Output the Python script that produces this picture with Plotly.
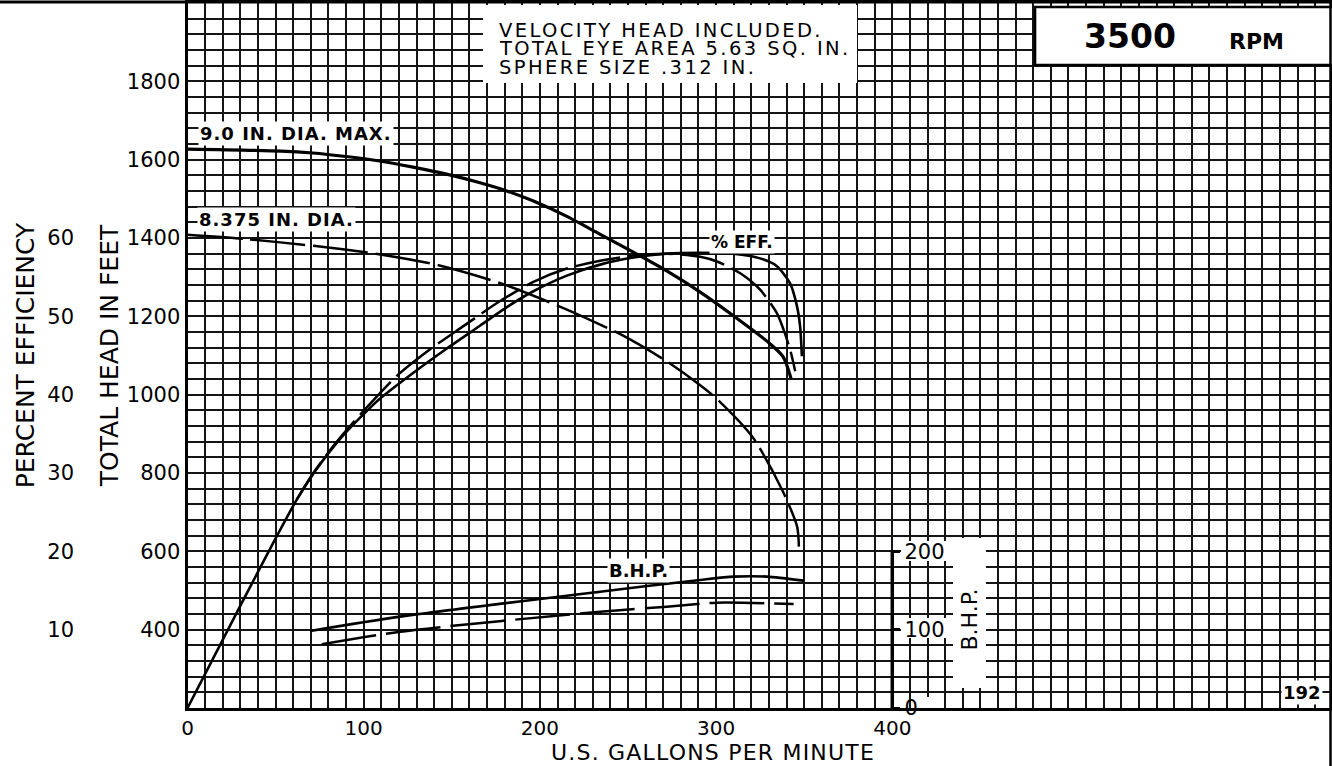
import plotly.graph_objects as go

# ---------------- data ----------------
GPM_HEAD_90 = [0, 53, 71, 90, 110, 128, 147, 166, 182, 196, 215, 234, 253, 272, 291, 310, 329, 338, 342.5]
HEAD_90 = [1627, 1622, 1617, 1608, 1596, 1581, 1563, 1541, 1519, 1495, 1456, 1410, 1364, 1316, 1262, 1201, 1136, 1097, 1042]

GPM_HEAD_8375 = [0, 33.5, 71.5, 109.5, 143, 178, 215, 247.5, 272, 291, 300.5, 321, 338, 346, 347]
HEAD_8375 = [1408, 1397, 1380, 1358, 1330, 1284, 1218, 1150, 1085, 1024, 989, 890, 752, 663, 612]

GPM_EFF_90 = [0, 31.7, 50.6, 62, 71.4, 80.9, 90.4, 101.7, 109.3, 128.2, 147.2, 166, 182.1, 196.3, 215.3,
              234.2, 253.1, 272, 291, 309.9, 325, 334.5, 342, 345.9, 347.7, 348.7]
EFF_90 = [0, 13.8, 21.9, 26.6, 29.9, 32.8, 35.3, 37.9, 39.5, 42.8, 45.9, 48.8, 51.3, 53.2, 55.2,
          56.6, 57.5, 58.0, 58.1, 58.0, 57.4, 56.4, 54.2, 51.3, 48.7, 44.9]

GPM_EFF_8375 = [62, 71.4, 80.9, 90.4, 99.8, 118.8, 137.7, 156.6, 177.4, 196.3, 215.3, 234.2, 253.1, 272,
                291, 300.5, 313.7, 325, 334.5, 338.3, 342.1, 344.9]
EFF_8375 = [26.6, 30.0, 32.9, 35.5, 37.9, 42.4, 45.8, 48.75, 51.95, 54.4, 56.1, 57.1, 57.75, 58.0,
            57.6, 57.0, 55.5, 53.4, 50.4, 48.3, 45.7, 43.0]

GPM_BHP_90 = [69.6, 120.6, 234.2, 291, 309.9, 328.8, 349.6]
BHP_90 = [98.3, 116.6, 148.5, 163.5, 167.7, 167.7, 162.6]

GPM_BHP_8375 = [76.2, 120.6, 234.2, 272, 300.5, 344]
BHP_8375 = [81.4, 97.4, 123, 129.4, 134.5, 132.8]

X_TICKS = [0, 100, 200, 300, 400]
HEAD_TICKS = [400, 600, 800, 1000, 1200, 1400, 1600, 1800]
EFF_TICKS = [10, 20, 30, 40, 50, 60]
BHP_TICKS = [0, 100, 200]

NOTES = ["VELOCITY HEAD INCLUDED.", "TOTAL EYE AREA 5.63 SQ. IN.", "SPHERE SIZE .312 IN."]
SPEED = "3500"
SPEED_UNIT = "RPM"
PAGE = "192"
LABEL_90 = "9.0 IN. DIA. MAX."
LABEL_8375 = "8.375 IN. DIA."
LABEL_EFF = "% EFF."
LABEL_BHP = "B.H.P."

# ---------------- layout constants ----------------
W, H = 1332, 766
ML, MR, MT, MB = 0, 1, 3, 58
PLOT_LEFT = 187.5
X_MAX = 649
X_GRID = 10
HEAD_MIN, HEAD_MAX = 200, 2000
HEAD_GRID = 40
EFF_PER_FT = 1 / 20.0   # efficiency axis: 0 % at 200 ft, 10 % per 200 ft
BHP_PER_FT = 1 / 2.0    # bhp axis: 0 at 200 ft, 100 per 200 ft
FONT = "DejaVu Sans"
GRID_COLOR = "#151515"

area_w = W - ML - MR
area_h = H - MT - MB
x_dom0 = (PLOT_LEFT - ML) / area_w
x_scale = (W - MR - PLOT_LEFT) / X_MAX
y_scale = area_h / (HEAD_MAX - HEAD_MIN)


def px(xp):
    return (xp - ML) / area_w


def py(yp):
    return (H - MB - yp) / area_h


def gx(xp):
    return (xp - PLOT_LEFT) / x_scale


def hy(yp):
    return HEAD_MIN + (H - MB - yp) / y_scale


fig = go.Figure()


def curve(x, y, axis, width, dash="solid"):
    fig.add_trace(go.Scatter(
        x=x, y=y, yaxis=axis, mode="lines",
        line=dict(color="black", width=width, dash=dash, shape="spline", smoothing=0.7),
        hoverinfo="skip", showlegend=False,
    ))


curve(GPM_HEAD_90, HEAD_90, "y", 3.2)
curve(GPM_HEAD_8375, HEAD_8375, "y", 2.5, "55px,8px")
curve(GPM_EFF_90, EFF_90, "y2", 2.6)
curve(GPM_EFF_8375, EFF_8375, "y2", 2.5, "45px,8px")
curve(GPM_BHP_90, BHP_90, "y3", 2.6)
curve(GPM_BHP_8375, BHP_8375, "y3", 2.5, "55px,10px")

x_vals = list(range(0, X_MAX + 1, X_GRID))
h_vals = list(range(HEAD_MIN, HEAD_MAX + 1, HEAD_GRID))

eff_range = [0, (HEAD_MAX - HEAD_MIN) * EFF_PER_FT]
bhp_range = [0, (HEAD_MAX - HEAD_MIN) * BHP_PER_FT]
bhp_axis_pos = x_dom0 + (X_TICKS[-1] / X_MAX) * (1 - x_dom0)

tickfont = dict(family=FONT, size=21, color="black")
xtickfont = dict(family=FONT, size=20, color="black")
titlefont = dict(family=FONT, size=25, color="black")

fig.update_layout(
    width=W, height=H,
    margin=dict(l=ML, r=MR, t=MT, b=MB, pad=0),
    paper_bgcolor="white", plot_bgcolor="white",
    font=dict(family=FONT, color="black"),
    showlegend=False,
    xaxis=dict(
        domain=[x_dom0, 1], range=[0, X_MAX],
        tickmode="array", tickvals=x_vals,
        ticktext=[str(v) if v in X_TICKS else "" for v in x_vals],
        showgrid=True, gridcolor=GRID_COLOR, gridwidth=1.8,
        showline=True, linecolor="black", linewidth=3, mirror=True,
        ticks="", tickfont=xtickfont, zeroline=False, automargin=False,
        ticklabelstandoff=0,
    ),
    yaxis=dict(
        range=[HEAD_MIN, HEAD_MAX],
        tickmode="array", tickvals=h_vals,
        ticktext=[str(v) if v in HEAD_TICKS else "" for v in h_vals],
        showgrid=True, gridcolor=GRID_COLOR, gridwidth=1.8,
        showline=True, linecolor="black", linewidth=3, mirror=True,
        ticks="", tickfont=tickfont, zeroline=False, automargin=False,
        title=dict(text="TOTAL HEAD IN FEET", font=titlefont, standoff=2),
        ticklabelstandoff=0,
    ),
    yaxis2=dict(
        overlaying="y", anchor="free", position=px(74), side="left",
        range=eff_range, tickmode="array", tickvals=EFF_TICKS,
        showgrid=False, showline=False, zeroline=False, ticks="",
        tickfont=tickfont, automargin=False,
        title=dict(text="PERCENT EFFICIENCY", font=titlefont, standoff=4),
    ),
    yaxis3=dict(
        overlaying="y", anchor="free", position=bhp_axis_pos, side="right",
        range=bhp_range, tickmode="array", tickvals=BHP_TICKS,
        showgrid=False, showline=False, zeroline=False,
        ticks="outside", ticklen=7, tickwidth=2.5, tickcolor="black",
        tickfont=tickfont, automargin=False,
    ),
)

shapes = []
# BHP scale line at 400 gpm, from 0 to 200 bhp
shapes.append(dict(type="line", xref="x", yref="y3", x0=X_TICKS[-1], x1=X_TICKS[-1],
                   y0=BHP_TICKS[0], y1=BHP_TICKS[-1], line=dict(color="black", width=3.5), layer="above"))
# white patches behind the B.H.P. tick labels and title (above grid, below text)
for (xa, xb, ya, yb) in [(901, 953, 541, 561), (901, 953, 618, 638), (918, 942, 697, 708), (953, 986, 538, 688)]:
    shapes.append(dict(type="rect", xref="x", yref="y", x0=gx(xa), x1=gx(xb), y0=hy(yb), y1=hy(ya),
                       fillcolor="white", line=dict(width=0), layer="between"))
# note box
shapes.append(dict(type="rect", xref="paper", yref="paper", x0=px(483), x1=px(857), y0=py(83), y1=py(5),
                   fillcolor="white", line=dict(width=0), layer="above"))
# rpm box
shapes.append(dict(type="rect", xref="paper", yref="paper", x0=px(1035), x1=px(1334), y0=py(65), y1=py(7),
                   fillcolor="white", line=dict(color="black", width=2.6), layer="above"))
# page border lines
shapes.append(dict(type="line", xref="paper", yref="paper", x0=px(0), x1=px(W), y0=py(2), y1=py(2),
                   line=dict(color="black", width=3), layer="above"))
shapes.append(dict(type="line", xref="paper", yref="paper", x0=px(1330.5), x1=px(1330.5), y0=py(0), y1=py(H),
                   line=dict(color="black", width=2.5), layer="above"))
fig.update_layout(shapes=shapes)

ann = []


def note(text, x, y, size, bold=False, xanchor="center", bg=None, angle=0, spacing=None):
    t = "<b>%s</b>" % text if bold else text
    if spacing:
        t = '<span style="letter-spacing:%spx">%s</span>' % (spacing, t)
    d = dict(text=t, x=px(x), y=py(y), xref="paper", yref="paper", showarrow=False,
             xanchor=xanchor, yanchor="middle", textangle=angle,
             font=dict(family=FONT, size=size, color="black"))
    if bg:
        d.update(bgcolor=bg, borderpad=1)
    ann.append(d)


note("U.S. GALLONS PER MINUTE", 712.5, 752.5, 22, spacing=1.2)
for i, line in enumerate(NOTES):
    note(line, 497, 30 + i * 18.5, 19.5, xanchor="left", spacing=2.4)
note(SPEED, 1129.5, 36.5, 33, bold=True)
note(SPEED_UNIT, 1256.5, 42, 22, bold=True)
note(LABEL_90, 295.5, 133, 18, bold=True, bg="white", spacing=1)
note(LABEL_8375, 276.5, 219, 18, bold=True, bg="white", spacing=1)
note(LABEL_EFF, 742, 242, 17, bold=True, bg="white")
note(LABEL_BHP, 638, 570, 18, bold=True, bg="white")
note(PAGE, 1302, 692, 18, bold=True, bg="white")
note("B.H.P.", 968.5, 620, 22, angle=-90)
fig.update_layout(annotations=ann)

fig.write_html(
    "out.html",
    config={"displayModeBar": False},
    post_script="document.body.style.margin='0';document.body.style.overflow='hidden';",
)
